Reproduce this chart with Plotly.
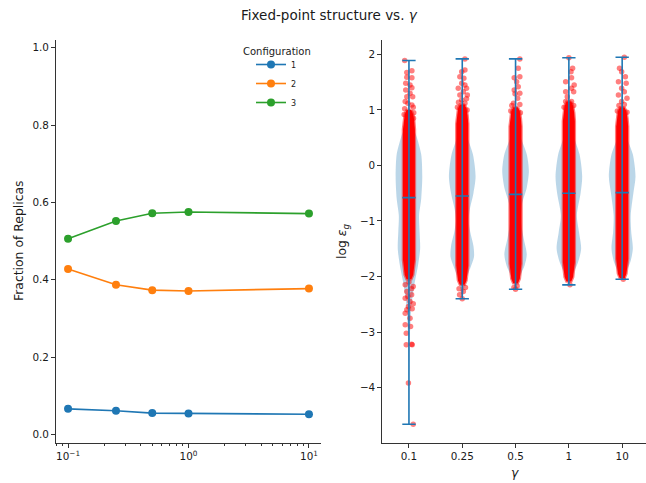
import plotly.graph_objects as go

W, H = 646, 483

# ---------------- left panel: fraction of replicas per configuration ----------------
gammas = [0.1, 0.25, 0.5, 1, 10]
config_names = ["1", "2", "3"]
frac_config1 = [0.066, 0.061, 0.055, 0.054, 0.052]
frac_config2 = [0.428, 0.387, 0.373, 0.371, 0.377]
frac_config3 = [0.506, 0.552, 0.572, 0.575, 0.571]
left_yticks = [0.0, 0.2, 0.4, 0.6, 0.8, 1.0]
left_xticks = [0.1, 1, 10]
left_xticktext = ["10<sup>\u22121</sup>", "10<sup>0</sup>", "10<sup>1</sup>"]

# ---------------- right panel: distribution of log eps_g per gamma ----------------
gamma_labels = ["0.1", "0.25", "0.5", "1", "10"]
eps_min = [-4.66, -2.40, -2.23, -2.15, -2.05]
eps_mean = [-0.58, -0.55, -0.52, -0.50, -0.49]
eps_max = [1.89, 1.92, 1.92, 1.94, 1.95]

# violin outlines: levels of log eps_g and the half-width of the density there
violin_levels = [
    [1.89, 1.2, 0.8, 0.5, 0.2, -0.2, -0.6, -0.9, -1.2, -1.5, -1.8, -2.1, -2.5, -3.0, -3.5, -4.0, -4.66],
    [1.92, 1.2, 0.8, 0.5, 0.2, -0.2, -0.5, -0.8, -1.0, -1.2, -1.45, -1.65, -1.85, -2.05, -2.25, -2.40],
    [1.92, 1.2, 0.8, 0.5, 0.2, -0.1, -0.4, -0.7, -1.0, -1.3, -1.6, -1.8, -2.0, -2.23],
    [1.94, 1.2, 0.8, 0.5, 0.2, -0.2, -0.5, -0.9, -1.2, -1.5, -1.75, -1.95, -2.15],
    [1.95, 1.2, 0.8, 0.5, 0.2, -0.2, -0.5, -0.9, -1.2, -1.5, -1.75, -1.9, -2.05],
]
violin_halfwidths = [
    [0, 0.01, 0.04, 0.15, 0.23, 0.25, 0.23, 0.19, 0.20, 0.21, 0.17, 0.11, 0.05, 0.02, 0.008, 0.004, 0],
    [0, 0.01, 0.03, 0.10, 0.20, 0.25, 0.21, 0.14, 0.12, 0.15, 0.21, 0.22, 0.15, 0.07, 0.03, 0],
    [0, 0.01, 0.03, 0.10, 0.21, 0.25, 0.21, 0.12, 0.10, 0.15, 0.21, 0.17, 0.08, 0],
    [0, 0.01, 0.03, 0.10, 0.20, 0.25, 0.22, 0.15, 0.19, 0.23, 0.17, 0.08, 0],
    [0, 0.01, 0.03, 0.09, 0.20, 0.25, 0.21, 0.16, 0.17, 0.20, 0.15, 0.08, 0],
]

# range over which the jittered replicas overlap into a solid column
dense_top = [1.00, 1.10, 1.05, 1.15, 1.05]
dense_bottom = [-2.05, -2.15, -2.12, -2.09, -2.03]
# the column thins out towards both ends: (distance from the end, half-width)
column_end_offsets = [0.0, 0.08, 0.2, 0.35]
column_end_halfwidths = [0.045, 0.08, 0.1, 0.112]

# individually visible replicas outside the solid column: (jitter offset, log eps_g)
sparse_points = [
    [(-0.08, 1.89), (-0.04, 1.675), (0.055, 1.706), (0.055, 1.58), (-0.04, 1.59), (-0.06, 1.48),
     (0.02, 1.45), (0.055, 1.40), (-0.06, 1.36), (0.02, 1.30), (-0.04, 1.24), (0.07, 1.24),
     (-0.07, 1.15), (0.055, 1.09), (-0.02, 1.12), (0.08, 1.05), (-0.08, 1.02), (0.09, 0.95),
     (-0.09, 0.92), (0.085, 0.85),
     (0.0, -2.10), (-0.07, -2.15), (0.08, -2.18), (0.05, -2.22), (-0.04, -2.27), (0.05, -2.33),
     (-0.02, -2.36), (-0.07, -2.39), (0.02, -2.45), (0.08, -2.49), (-0.01, -2.54), (0.06, -2.58),
     (-0.04, -2.60), (-0.07, -2.66), (0.02, -2.75), (-0.07, -2.87), (0.03, -2.90), (-0.05, -3.02),
     (-0.05, -3.23), (0.05, -3.22), (0.06, -3.23), (-0.01, -3.92), (0.08, -4.66)],
    [(0.05, 1.92), (-0.01, 1.69), (0.05, 1.72), (-0.045, 1.60), (0.03, 1.57), (-0.01, 1.48),
     (0.05, 1.45), (-0.075, 1.39), (0.08, 1.39), (0.02, 1.33), (-0.045, 1.27), (0.095, 1.27),
     (-0.01, 1.18), (0.05, 1.12), (-0.07, 1.14), (0.08, 1.20), (-0.09, 1.05), (0.09, 1.0),
     (0.06, -2.20), (-0.06, -2.22), (0.02, -2.27), (-0.05, -2.33), (0.0, -2.40)],
    [(0.08, 1.92), (0.05, 1.75), (0.08, 1.60), (-0.025, 1.58), (0.02, 1.51), (0.05, 1.42),
     (-0.025, 1.36), (0.08, 1.30), (-0.01, 1.29), (0.04, 1.21), (-0.04, 1.12), (0.08, 1.10),
     (-0.07, 1.08), (-0.09, 0.98), (0.09, 0.95),
     (0.03, -2.17), (-0.03, -2.20), (0.0, -2.23)],
    [(0.0, 1.94), (0.07, 1.75), (0.04, 1.69), (0.05, 1.58), (-0.06, 1.51), (0.10, 1.45),
     (0.05, 1.39), (-0.06, 1.33), (0.09, 1.33), (-0.03, 1.24), (-0.06, 1.15), (0.05, 1.15),
     (0.09, 1.08), (-0.09, 1.05), (0.02, -2.15)],
    [(0.04, 1.95), (-0.05, 1.75), (-0.01, 1.69), (0.06, 1.60), (-0.07, 1.51), (0.075, 1.48),
     (-0.01, 1.39), (0.04, 1.33), (-0.07, 1.27), (0.09, 1.21), (-0.01, 1.15), (0.04, 1.10),
     (-0.06, 1.08), (-0.09, 0.98), (0.09, 0.96), (0.02, -2.05)],
]

# ---------------- styling ----------------
FONT = "DejaVu Sans"
TXT = "#1a1a1a"
AX = "#333333"
C0, C1, C2 = "#1f77b4", "#ff7f0e", "#2ca02c"
TICK_SIZE = 10.4
LABEL_SIZE = 12.4


def px_x(p):
    return p / W


def px_y(p):
    return 1 - p / H


fig = go.Figure()

# left panel lines
for name, vals, col in zip(config_names, [frac_config1, frac_config2, frac_config3], [C0, C1, C2]):
    fig.add_trace(go.Scatter(
        x=gammas, y=vals, name=name, mode="lines+markers",
        line=dict(color=col, width=1.6), marker=dict(color=col, size=8),
        xaxis="x", yaxis="y",
    ))

positions = list(range(1, len(gamma_labels) + 1))

# violin bodies
for pos, ys, ws in zip(positions, violin_levels, violin_halfwidths):
    xs = [pos + w for w in ws] + [pos - w for w in reversed(ws)]
    yy = list(ys) + list(reversed(ys))
    fig.add_trace(go.Scatter(
        x=xs, y=yy, mode="lines", fill="toself",
        fillcolor="rgba(31,119,180,0.3)",
        line=dict(width=0, shape="spline", smoothing=0.8, color="rgba(31,119,180,0)"),
        hoverinfo="skip", showlegend=False, xaxis="x2", yaxis="y2",
    ))

# solid column of overlapping replicas
for pos, top, bot in zip(positions, dense_top, dense_bottom):
    right_y = [top - d for d in column_end_offsets] + [bot + d for d in reversed(column_end_offsets)]
    right_w = list(column_end_halfwidths) + list(reversed(column_end_halfwidths))
    xs = [pos + w for w in right_w] + [pos - w for w in reversed(right_w)]
    ys = right_y + list(reversed(right_y))
    fig.add_trace(go.Scatter(
        x=xs + [xs[0]], y=ys + [ys[0]],
        mode="lines", fill="toself", fillcolor="#ff0000",
        line=dict(color="rgba(255,0,0,0.5)", width=2.5),
        hoverinfo="skip", showlegend=False, xaxis="x2", yaxis="y2",
    ))

# sparse replicas
for pos, pts in zip(positions, sparse_points):
    fig.add_trace(go.Scatter(
        x=[pos + dx for dx, _ in pts], y=[v for _, v in pts], mode="markers",
        marker=dict(color="rgba(255,0,0,0.5)", size=5.5, line=dict(width=0)),
        showlegend=False, xaxis="x2", yaxis="y2",
    ))

# extrema / mean bars
cap = 0.125
wx, wy = [], []
for pos, lo, mu, hi in zip(positions, eps_min, eps_mean, eps_max):
    wx += [pos, pos, None]
    wy += [lo, hi, None]
    for v in (lo, mu, hi):
        wx += [pos - cap, pos + cap, None]
        wy += [v, v, None]
fig.add_trace(go.Scatter(
    x=wx, y=wy, mode="lines", line=dict(color=C0, width=1.6),
    showlegend=False, hoverinfo="skip", xaxis="x2", yaxis="y2",
))

axis_common = dict(
    showline=True, linecolor=AX, linewidth=1, ticks="outside", ticklen=4, tickwidth=1,
    tickcolor=AX, showgrid=False, zeroline=False, mirror=False,
    tickfont=dict(family=FONT, size=TICK_SIZE, color=TXT),
)

y_dom = [px_y(442.5), px_y(40)]

fig.update_layout(
    width=W, height=H,
    margin=dict(l=0, r=0, t=0, b=0),
    paper_bgcolor="white", plot_bgcolor="white",
    font=dict(family=FONT, color=TXT),
    xaxis=dict(
        type="log", range=[-1.1, 1.1], domain=[px_x(56), px_x(321)], anchor="y",
        tickvals=left_xticks, ticktext=left_xticktext,
        minor=dict(ticks="outside", ticklen=2, tickcolor=AX, showgrid=False,
                   tickvals=[0.08, 0.09, 0.2, 0.3, 0.4, 0.5, 0.6, 0.7, 0.8, 0.9,
                             2, 3, 4, 5, 6, 7, 8, 9]),
        **axis_common,
    ),
    yaxis=dict(
        range=[-0.021, 1.02], domain=y_dom, anchor="x",
        tickvals=left_yticks, tickformat=".1f",
        **axis_common,
    ),
    xaxis2=dict(
        range=[0.5, 5.447], domain=[px_x(382.3), 1], anchor="y2",
        tickvals=positions, ticktext=gamma_labels,
        **axis_common,
    ),
    yaxis2=dict(
        range=[-4.99, 2.26], domain=y_dom, anchor="x2",
        tickvals=[-4, -3, -2, -1, 0, 1, 2],
        **axis_common,
    ),
    showlegend=True,
    legend=dict(
        x=px_x(251), y=px_y(50), xanchor="left", yanchor="top",
        bgcolor="rgba(0,0,0,0)", borderwidth=0, itemwidth=30,
        font=dict(family=FONT, size=8, color=TXT),
    ),
)

annotations = [
    dict(text="Fixed-point structure vs. <i>\u03b3</i>", x=px_x(329), y=px_y(15),
         font=dict(size=13.5)),
    dict(text="Fraction of Replicas", x=px_x(18), y=px_y(241), textangle=-90,
         font=dict(size=LABEL_SIZE)),
    dict(text="log <i>\u03b5</i><sub><i>g</i></sub>", x=px_x(342), y=px_y(241), textangle=-90,
         font=dict(size=LABEL_SIZE)),
    dict(text="<i>\u03b3</i>", x=px_x(515), y=px_y(472), font=dict(size=LABEL_SIZE)),
    dict(text="Configuration", x=px_x(277), y=px_y(51.5), font=dict(size=10)),
]
for a in annotations:
    a.update(xref="paper", yref="paper", showarrow=False, xanchor="center", yanchor="middle")
    a["font"] = dict(family=FONT, color=TXT, **a["font"])
fig.update_layout(annotations=annotations)

fig.write_html("out.html")
